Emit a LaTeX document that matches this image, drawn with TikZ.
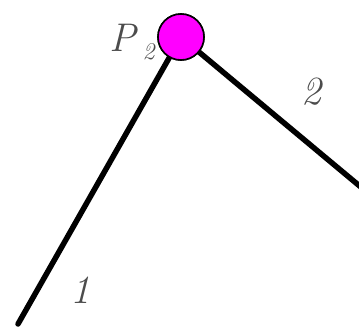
\documentclass[tikz,border=0pt]{standalone}
\usepackage{tikz}
\usetikzlibrary{positioning}
\definecolor{jointfill}{RGB}{255,0,255}

\begin{document}
\begin{tikzpicture}[
    x=1pt, y=-1pt,
    joint/.style={draw, circle, line width=1.6pt, fill=jointfill, minimum size=46pt, inner sep=0pt},
    bar/.style={line width=5.5pt, line cap=round},
    lbl/.style={font=\fontsize{40}{40}\selectfont\itshape, text=black!70, inner sep=0pt}
]
\useasboundingbox (0,0) rectangle (359,327);
\coordinate (A) at (18,324);
\coordinate (B) at (362,188);
\node[joint] (P) at (181,37) {};

\draw[bar] (P) -- (A);
\draw[bar] (P) -- (B);
\node[joint] at (P) {};

\node[lbl] (Pl) at (132,42) {P\,\raisebox{-8pt}{\fontsize{24}{24}\selectfont 2}};
\node[lbl] (l1) at (80,290) {1};
\node[lbl] (l2) at (311,92) {2};
\end{tikzpicture}
\end{document}
